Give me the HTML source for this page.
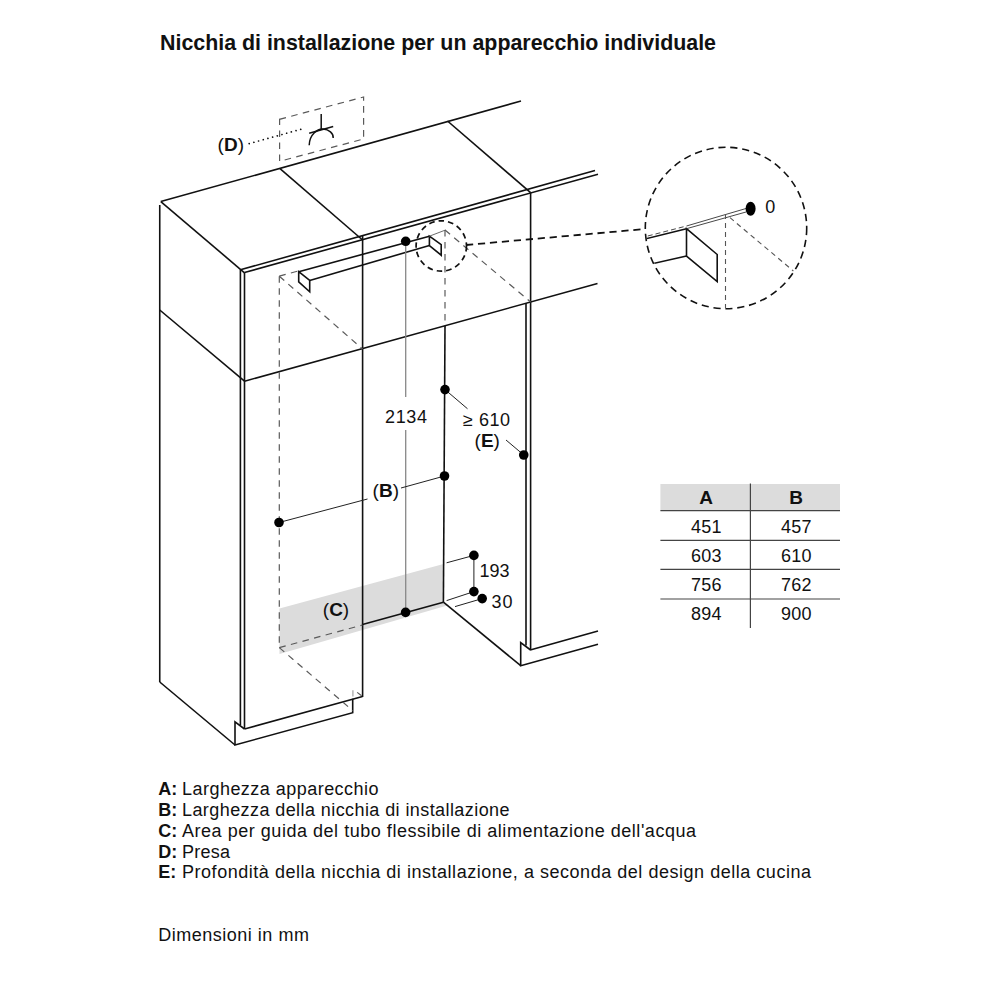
<!DOCTYPE html>
<html><head><meta charset="utf-8">
<style>
html,body{margin:0;padding:0;background:#fff;}
svg{display:block;}
text{font-family:"Liberation Sans",sans-serif;fill:#111;}
</style></head>
<body>
<svg width="1000" height="1000" viewBox="0 0 1000 1000">
<defs>
<clipPath id="bigc"><circle cx="726" cy="228" r="80"/></clipPath>
</defs>
<rect width="1000" height="1000" fill="#fff"/>
<!-- title -->
<text x="160" y="49.6" font-size="21.4" font-weight="700" textLength="556" lengthAdjust="spacing">Nicchia di installazione per un apparecchio individuale</text>

<!-- grey area C -->
<polygon points="279.5,608.5 443.5,564 443.5,602 449,605 279.5,654" fill="#dcdcdc"/>

<!-- main structure -->
<g stroke="#111" stroke-width="1.6" fill="none" stroke-linecap="butt">
<line x1="160.8" y1="201.6" x2="521" y2="101"/>
<line x1="160.8" y1="201.6" x2="244.5" y2="272.8"/>
<line x1="280" y1="168.6" x2="362.6" y2="240"/>
<line x1="447.5" y1="121" x2="530.6" y2="192.6"/>
<line x1="240.4" y1="269.8" x2="595" y2="170.6"/>
<line x1="244.5" y1="272.5" x2="598" y2="174.2"/>
<line x1="159.75" y1="205" x2="159.75" y2="682"/>
<line x1="159.75" y1="310" x2="244.5" y2="381.2"/>
<line x1="240.4" y1="269.8" x2="240.4" y2="725"/>
<line x1="244.5" y1="272.5" x2="244.5" y2="729"/>
<line x1="244.5" y1="381.2" x2="597.5" y2="283.5"/>
<line x1="362.6" y1="236" x2="362.6" y2="697"/>
<line x1="530.6" y1="192.6" x2="530.6" y2="650"/>
<line x1="526" y1="303" x2="526" y2="645.5"/>
<line x1="244.5" y1="729" x2="362.5" y2="696.6"/>
<line x1="159.75" y1="682" x2="235" y2="745"/>
<polyline points="244.5,729 235,721.8 235,745 352.7,712.7 352.7,698.7"/>
<line x1="362.5" y1="624.5" x2="443.4" y2="602.2"/>
<line x1="445" y1="326" x2="443.4" y2="602.2"/>
<line x1="443.4" y1="602.2" x2="520.7" y2="665.7"/>
<line x1="530.2" y1="650" x2="598" y2="631"/>
<polyline points="530.6,650 520.7,642.5 520.7,665.7 598,644.3"/>
<!-- handle -->
<line x1="298.7" y1="271.7" x2="429.4" y2="236.2"/>
<line x1="309.7" y1="280.4" x2="429.4" y2="245.5"/>
<polygon points="298.7,271.7 309.7,280.4 309.7,291.8 298.7,281.8"/>
<polygon points="429.4,236.2 441.2,244.7 441.2,255.2 429.4,245.5"/>
</g>

<!-- dashed appliance outline -->
<g stroke="#5a5a5a" stroke-width="1.2" fill="none" stroke-dasharray="6.6 5.4">
<line x1="279.3" y1="276.2" x2="298.7" y2="270.8"/>
<line x1="429.4" y1="236.2" x2="445.5" y2="230" stroke-dasharray="none" stroke-width="0.9"/>
<line x1="279.3" y1="276.2" x2="279.3" y2="647.6"/>
<line x1="445" y1="230" x2="445" y2="326"/>
<line x1="279.3" y1="276.2" x2="362.5" y2="349"/>
<line x1="445" y1="230" x2="530.6" y2="302"/>
<line x1="279.3" y1="647.6" x2="362.5" y2="625"/>
<line x1="279.3" y1="647.6" x2="352.7" y2="710.6"/>
<line x1="352.9" y1="690.2" x2="352.9" y2="696.6" stroke="#aaa" stroke-dasharray="none" stroke-width="1.3"/>
<line x1="357.2" y1="692.4" x2="361.6" y2="695.8" stroke-dasharray="none"/>
<!-- D rect -->
<polygon points="279.6,119.3 363.6,97 363.6,139 279.6,161.3"/>
</g>
<!-- socket -->
<g stroke="#111" stroke-width="1.5" fill="none">
<line x1="321.2" y1="114" x2="321.2" y2="129.5"/>
<line x1="309.2" y1="133.2" x2="333.2" y2="126.5"/>
<path d="M309.2,145.2 C309.5,134 318,128.5 323,129 C329,129.5 333.5,133 333.2,138"/>
</g>
<line x1="249.2" y1="143.6" x2="301.2" y2="129.2" stroke="#111" stroke-width="1.7" stroke-linecap="round" stroke-dasharray="0.01 4.85"/>

<!-- dimension lines -->
<g stroke="#888" stroke-width="1.3" fill="none">
<line x1="405.7" y1="241" x2="405.7" y2="397"/>
<line x1="405.7" y1="430" x2="405.7" y2="612.4"/>
</g>
<g stroke="#222" stroke-width="1" fill="none">
<line x1="279" y1="522.5" x2="367.5" y2="499"/>
<line x1="401" y1="488" x2="444.5" y2="476"/>
<line x1="445" y1="389.6" x2="467.5" y2="408.75"/>
<line x1="506" y1="440" x2="523.75" y2="455"/>
<line x1="446.6" y1="562.8" x2="473.9" y2="555.4"/>
<line x1="473.9" y1="555.4" x2="473.9" y2="591.6"/>
<line x1="446.6" y1="600.6" x2="473.9" y2="591.6"/>
<line x1="455" y1="606.6" x2="482.2" y2="598.6"/>
</g>
<g fill="#000">
<circle cx="405.7" cy="241.3" r="4.8"/>
<circle cx="405.6" cy="612.4" r="4.8"/>
<circle cx="279" cy="522.5" r="4.8"/>
<circle cx="444.5" cy="476" r="4.8"/>
<circle cx="445" cy="389.6" r="4.8"/>
<circle cx="523.75" cy="455" r="4.8"/>
<circle cx="473.9" cy="555.4" r="4.8"/>
<circle cx="473.9" cy="591.6" r="4.8"/>
<circle cx="482.2" cy="598.6" r="4.8"/>
</g>

<!-- detail circles -->
<g stroke="#111" fill="none">
<circle cx="441.3" cy="246" r="25.2" stroke-width="1.7" stroke-dasharray="5.6 4"/>
<line x1="466" y1="245" x2="645" y2="229" stroke-width="1.8" stroke-dasharray="7.2 4.8"/>
<circle cx="726" cy="228" r="80.7" stroke-width="1.6" stroke-dasharray="7.2 4.8"/>
</g>
<g clip-path="url(#bigc)">
<g stroke="#111" stroke-width="1.6" fill="none">
<line x1="640" y1="240.2" x2="686.5" y2="228.7"/>
<line x1="640" y1="266.5" x2="686.5" y2="256"/>
<polygon points="686.5,228.7 717.2,254.5 717.2,281.5 686.5,256"/>
</g>
<g stroke="#333" stroke-width="0.9" fill="none">
<line x1="640" y1="238" x2="686.5" y2="226" stroke-dasharray="5 3"/>
<line x1="686.5" y1="226" x2="746" y2="208.5"/>
<line x1="686.5" y1="228.7" x2="746" y2="212"/>
</g>
<g stroke="#555" stroke-width="1.1" fill="none" stroke-dasharray="5 4">
<line x1="725.5" y1="214" x2="725.5" y2="310"/>
<line x1="730" y1="217.7" x2="794" y2="271.5"/>
</g>
<ellipse cx="750.6" cy="208.7" rx="5" ry="7" fill="#000"/>
</g>

<!-- drawing labels -->
<g font-size="18">
<text x="217.6" y="150.5" font-size="19">(<tspan font-weight="700">D</tspan>)</text>
<text x="385" y="423" textLength="42" lengthAdjust="spacing">2134</text>
<text x="463" y="425.5" textLength="47" lengthAdjust="spacing">≥ 610</text>
<text x="474.6" y="446.5" font-size="19">(<tspan font-weight="700">E</tspan>)</text>
<text x="372.6" y="496.8" font-size="19">(<tspan font-weight="700">B</tspan>)</text>
<text x="479.5" y="577.4" textLength="30" lengthAdjust="spacing">193</text>
<text x="491.5" y="608" textLength="21" lengthAdjust="spacing">30</text>
<text x="322.8" y="615.8" font-size="19">(<tspan font-weight="700">C</tspan>)</text>
<text x="765.2" y="212.5">0</text>
</g>

<!-- table -->
<rect x="660.4" y="484" width="179.6" height="26.6" fill="#dcdcdc"/>
<g stroke="#444" stroke-width="1.2">
<line x1="660.4" y1="510.6" x2="840" y2="510.6"/>
<line x1="660.4" y1="540.4" x2="840" y2="540.4"/>
<line x1="660.4" y1="569.4" x2="840" y2="569.4"/>
<line x1="660.4" y1="599" x2="840" y2="599"/>
<line x1="750.4" y1="483.6" x2="750.4" y2="628"/>
</g>
<g font-size="18" text-anchor="middle">
<text x="706" y="503.8" font-weight="700" font-size="19">A</text>
<text x="796" y="503.8" font-weight="700" font-size="19">B</text>
<text x="706.3" y="533" textLength="30.5" lengthAdjust="spacing">451</text><text x="796.3" y="533" textLength="30.5" lengthAdjust="spacing">457</text>
<text x="706.3" y="562" textLength="30.5" lengthAdjust="spacing">603</text><text x="796.3" y="562" textLength="30.5" lengthAdjust="spacing">610</text>
<text x="706.3" y="591" textLength="30.5" lengthAdjust="spacing">756</text><text x="796.3" y="591" textLength="30.5" lengthAdjust="spacing">762</text>
<text x="706.3" y="620" textLength="30.5" lengthAdjust="spacing">894</text><text x="796.3" y="620" textLength="30.5" lengthAdjust="spacing">900</text>
</g>

<!-- legend -->
<g font-size="18">
<text x="158.2" y="795.4" font-weight="700">A:</text><text x="182" y="795.4" textLength="196.5" lengthAdjust="spacing">Larghezza apparecchio</text>
<text x="158.2" y="816.1" font-weight="700">B:</text><text x="182" y="816.1" textLength="327.5" lengthAdjust="spacing">Larghezza della nicchia di installazione</text>
<text x="158.2" y="836.9" font-weight="700">C:</text><text x="182" y="836.9" textLength="514" lengthAdjust="spacing">Area per guida del tubo flessibile di alimentazione dell'acqua</text>
<text x="158.2" y="857.6" font-weight="700">D:</text><text x="182" y="857.6" textLength="48" lengthAdjust="spacing">Presa</text>
<text x="158.2" y="878.4" font-weight="700">E:</text><text x="182" y="878.4" textLength="629" lengthAdjust="spacing">Profondità della nicchia di installazione, a seconda del design della cucina</text>
<text x="158.2" y="940.8" textLength="150.7" lengthAdjust="spacing">Dimensioni in mm</text>
</g>
</svg>
</body></html>
